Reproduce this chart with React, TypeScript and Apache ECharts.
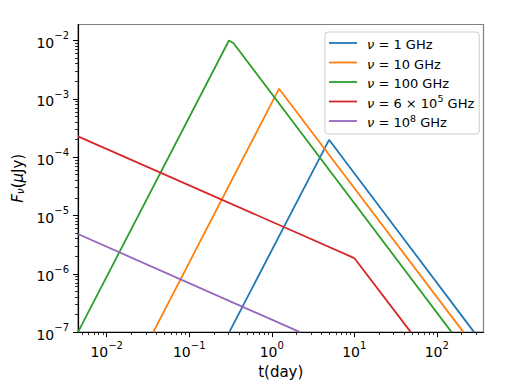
import React, { useEffect, useRef } from "react";
import * as echarts from "echarts";

const seriesNames = ["ν = 1 GHz", "ν = 10 GHz", "ν = 100 GHz", "ν = 6 × 10^5 GHz", "ν = 10^8 GHz"];
const legendRich = [
  "{i|ν}{n| = 1 GHz}",
  "{i|ν}{n| = 10 GHz}",
  "{i|ν}{n| = 100 GHz}",
  "{i|ν}{n| = 6 × 10}{s|5}{n| GHz}",
  "{i|ν}{n| = 10}{s|8}{n| GHz}",
];
const colors = ["#1f77b4", "#ff7f0e", "#2ca02c", "#d62728", "#9467bd"];

const t1GHz = [0.306, 4.95, 283];
const f1GHz = [1e-7, 1.98e-4, 1e-7];
const t10GHz = [0.0367, 1.226, 210];
const f10GHz = [1e-7, 1.49e-3, 1e-7];
const t100GHz = [0.00449, 0.303, 0.343, 151];
const f100GHz = [1e-7, 1.0e-2, 9.03e-3, 1e-7];
const t6e5GHz = [0.00449, 10, 48.4];
const f6e5GHz = [2.27e-4, 1.86e-6, 1e-7];
const t1e8GHz = [0.00449, 2.2];
const f1e8GHz = [4.8e-6, 1e-7];

const seriesT = [t1GHz, t10GHz, t100GHz, t6e5GHz, t1e8GHz];
const seriesF = [f1GHz, f10GHz, f100GHz, f6e5GHz, f1e8GHz];

const xMin = 0.00449;
const xMax = 368;
const yMin = 1e-7;
const yMax = 0.0188;
const xMajor = [1e-2, 1e-1, 1, 10, 100];
const yMajor = [1e-7, 1e-6, 1e-5, 1e-4, 1e-3, 1e-2];

function minors(lo: number, hi: number) {
  const out: number[] = [];
  for (let k = -9; k <= 4; k++) {
    for (let m = 2; m <= 9; m++) {
      const v = m * Math.pow(10, k);
      if (v >= lo && v <= hi) out.push(v);
    }
  }
  return out;
}

const FONT = "DejaVu Sans";

function powLabel(v: number) {
  const e = Math.round(Math.log10(v));
  const s = e < 0 ? "−" + Math.abs(e) : String(e);
  return "{b|10}{s|" + s + "}";
}

const labelRich = {
  b: { fontSize: 14, fontFamily: FONT, color: "#000", verticalAlign: "bottom", lineHeight: 19 },
  s: { fontSize: 10, fontFamily: FONT, color: "#000", verticalAlign: "top", lineHeight: 12 },
};

export default function App() {
  const ref = useRef<HTMLDivElement>(null);
  useEffect(() => {
    if (!ref.current) return;
    const chart = echarts.init(ref.current, null, { renderer: "svg" });
    const option: any = {
      animation: false,
      backgroundColor: "#fff",
      textStyle: { fontFamily: FONT },
      grid: {
        left: 78,
        right: 28.5,
        top: 24.5,
        bottom: 49.5,
        show: true,
        borderColor: "#808080",
        borderWidth: 1.2,
        backgroundColor: "transparent",
      },
      legend: {
        show: true,
        data: seriesNames,
        orient: "vertical",
        left: 325,
        top: 32,
        padding: [3, 5, 5, 4],
        icon: "rect",
        itemWidth: 28,
        itemHeight: 1.8,
        itemGap: 3.5,
        backgroundColor: "rgba(255,255,255,0.8)",
        borderColor: "#cccccc",
        borderWidth: 1,
        borderRadius: 3,
        formatter: (name: string) => legendRich[seriesNames.indexOf(name)],
        textStyle: {
          fontFamily: FONT,
          fontSize: 13,
          color: "#000",
          lineHeight: 16,
          padding: [0, 0, 0, 5],
          rich: {
            i: { fontFamily: FONT, fontStyle: "italic", fontSize: 13, color: "#000", verticalAlign: "bottom", lineHeight: 16 },
            n: { fontFamily: FONT, fontSize: 13, color: "#000", verticalAlign: "bottom", lineHeight: 16 },
            s: { fontFamily: FONT, fontSize: 9.5, color: "#000", verticalAlign: "top", lineHeight: 11 },
          },
        },
      },
      xAxis: [
        {
          type: "log",
          logBase: 10,
          min: xMin,
          max: xMax,
          position: "bottom",
          name: "t(day)",
          nameLocation: "middle",
          nameGap: 28,
          nameTextStyle: { fontFamily: FONT, fontSize: 15, color: "#000" },
          axisLine: { show: true, lineStyle: { color: "#000", width: 1.2 } },
          axisTick: { show: true, inside: false, length: 5, customValues: xMajor, lineStyle: { color: "#000", width: 1 } },
          axisLabel: {
            show: true,
            margin: 8,
            customValues: xMajor,
            formatter: (v: number) => powLabel(v),
            rich: labelRich,
          },
          splitLine: { show: false },
          minorTick: { show: false },
        },
        {
          type: "log",
          logBase: 10,
          min: xMin,
          max: xMax,
          position: "bottom",
          axisLine: { show: false },
          axisTick: { show: true, inside: false, length: 3, customValues: minors(xMin, xMax), lineStyle: { color: "#000", width: 0.8 } },
          axisLabel: { show: false },
          splitLine: { show: false },
        },
      ],
      yAxis: [
        {
          type: "log",
          logBase: 10,
          min: yMin,
          max: yMax,
          position: "left",
          name: "{i|F}{sub|ν}{n|(}{i|μ}{n|Jy)}",
          nameLocation: "middle",
          nameGap: 52,
          nameRotate: 90,
          nameTextStyle: {
            fontFamily: FONT,
            fontSize: 15,
            color: "#000",
            rich: {
              i: { fontFamily: FONT, fontStyle: "italic", fontSize: 15, color: "#000", verticalAlign: "bottom", lineHeight: 20 },
              n: { fontFamily: FONT, fontSize: 15, color: "#000", verticalAlign: "bottom", lineHeight: 20 },
              sub: { fontFamily: FONT, fontStyle: "italic", fontSize: 10.5, color: "#000", verticalAlign: "bottom", lineHeight: 16 },
            },
          },
          axisLine: { show: true, lineStyle: { color: "#000", width: 1.2 } },
          axisTick: { show: true, inside: false, length: 5, customValues: yMajor, lineStyle: { color: "#000", width: 1 } },
          axisLabel: {
            show: true,
            margin: 9,
            customValues: yMajor,
            formatter: (v: number) => powLabel(v),
            rich: labelRich,
          },
          splitLine: { show: false },
          minorTick: { show: false },
        },
        {
          type: "log",
          logBase: 10,
          min: yMin,
          max: yMax,
          position: "left",
          axisLine: { show: false },
          axisTick: { show: true, inside: false, length: 3, customValues: minors(yMin, yMax), lineStyle: { color: "#000", width: 0.8 } },
          axisLabel: { show: false },
          splitLine: { show: false },
        },
      ],
      series: seriesNames.map((name, k) => ({
        name,
        type: "line",
        xAxisIndex: 0,
        yAxisIndex: 0,
        symbol: "none",
        showSymbol: false,
        clip: true,
        color: colors[k],
        lineStyle: { color: colors[k], width: 1.8 },
        data: seriesT[k].map((t, i) => [t, seriesF[k][i]]),
      })),
    };
    chart.setOption(option);
    return () => chart.dispose();
  }, []);
  return <div ref={ref} style={{ width: 512, height: 384, position: "fixed", left: 0, top: 0 }} />;
}
